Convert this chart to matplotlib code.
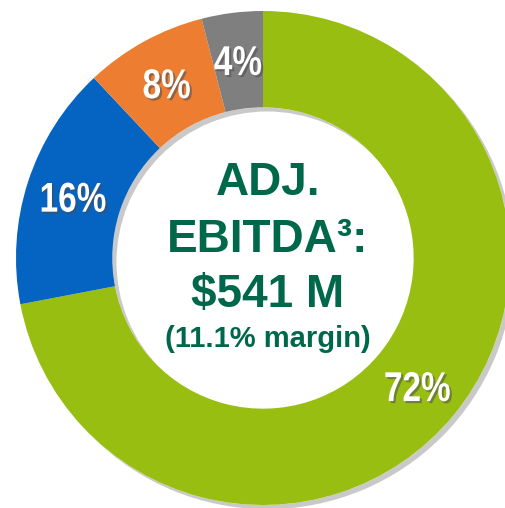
"""
Adjusted EBITDA donut chart
"""

import matplotlib
matplotlib.use('Agg')
import matplotlib.pyplot as plt
import matplotlib.patheffects as pe
from matplotlib.transforms import Affine2D

# Data
segments = ['Segment A', 'Segment B', 'Segment C', 'Segment D']
shares = [72, 16, 8, 4]
colors = ['#98BE12', '#0563C1', '#ED7D31', '#7F7F7F']
center_lines = ['ADJ.', 'EBITDA\u00b3:', '$541 M', '(11.1% margin)']

text_green = '#00684A'
ring_width = 0.39
SQUEEZE = 0.80   # no narrow font installed, so condense the glyph paths


def _squeezed(tpath, affine):
    """Compress a text path horizontally around its own centre."""
    ext = affine.transform_path(tpath).get_extents()
    cx = (ext.x0 + ext.x1) / 2
    return affine + Affine2D().translate(-cx, 0).scale(SQUEEZE, 1).translate(cx, 0)


class SqueezedShadow(pe.SimplePatchShadow):
    def draw_path(self, renderer, gc, tpath, affine, rgbFace=None):
        super().draw_path(renderer, gc, tpath, _squeezed(tpath, affine), rgbFace)


class SqueezedNormal(pe.AbstractPathEffect):
    def draw_path(self, renderer, gc, tpath, affine, rgbFace=None):
        renderer.draw_path(gc, tpath, _squeezed(tpath, affine), rgbFace)


fig = plt.figure(figsize=(5.05, 5.08), dpi=100, facecolor='white')
# one data unit = 247 px, ring centre at (263, 258) px from the top-left
ax = fig.add_axes([16 / 505, 3 / 508, 494 / 505, 494 / 508])
ax.set_xlim(-1, 1)
ax.set_ylim(-1, 1)
ax.axis('off')

# soft drop shadow under the whole ring
ax.pie([sum(shares)], radius=1, startangle=90, colors=['white'],
       wedgeprops=dict(width=ring_width, linewidth=0,
                       path_effects=[pe.SimplePatchShadow(offset=(3, -3), alpha=0.3),
                                     pe.Normal()]))

wedges, texts, autotexts = ax.pie(
    shares, radius=1, startangle=90, counterclock=False, colors=colors,
    autopct='%d%%', pctdistance=0.81,
    wedgeprops=dict(width=ring_width, linewidth=0))

for t in autotexts:
    t.set_fontfamily(['Liberation Sans', 'DejaVu Sans'])
    t.set_fontweight('bold')
    t.set_fontsize(30)
    t.set_color('white')
    t.set_verticalalignment('center_baseline')
    t.set_path_effects([SqueezedShadow(offset=(1.5, -1.5), alpha=0.55),
                        SqueezedNormal()])

ax.set_xlim(-1, 1)
ax.set_ylim(-1, 1)

# centre label
baselines = [0.255, 0.024, -0.198, -0.360]
sizes = [33, 33, 33, 21]
for line, yb, fs in zip(center_lines, baselines, sizes):
    ax.text(0.02, yb, line, ha='center', va='baseline', fontsize=fs,
            fontweight='bold', color=text_green,
            family=['Liberation Sans', 'DejaVu Sans'])

fig.savefig('out.png', dpi=100, facecolor='white')
